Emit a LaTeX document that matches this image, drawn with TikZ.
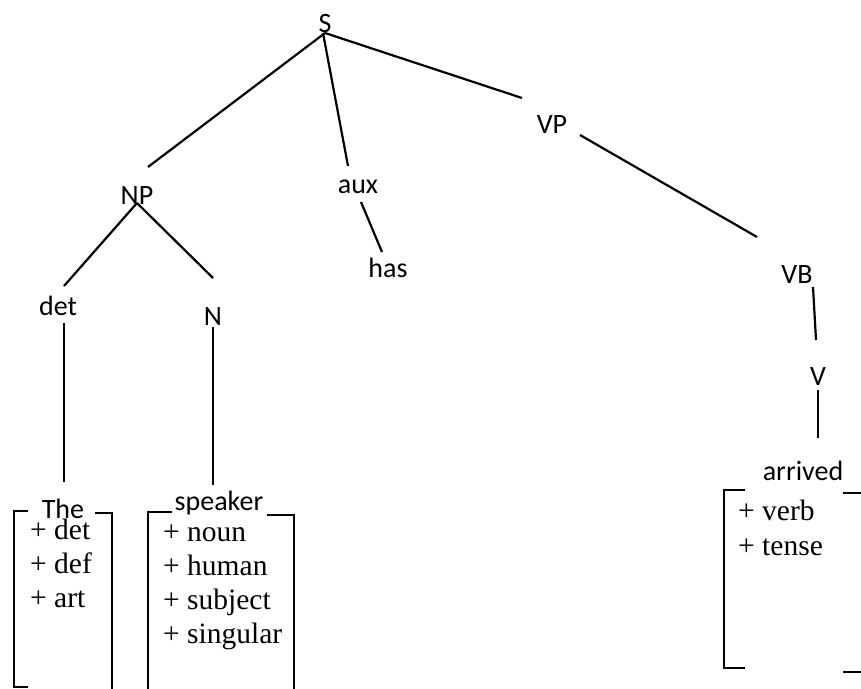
\documentclass[tikz,border=0pt]{standalone}
\usepackage{fontspec}
\setmainfont{Liberation Serif}
\newfontfamily\lblfont{Carlito}
\usetikzlibrary{calc}

\begin{document}
\begin{tikzpicture}[
  x=1pt, y=-1pt,
  lbl/.style={font=\lblfont\fontsize{28}{34}\selectfont, inner sep=0pt, anchor=base},
  feat/.style={font=\fontsize{29.5}{33.7}\selectfont, inner sep=0pt, align=left, anchor=base west},
  edge/.style={line width=2.2pt, black},
  brk/.style={line width=2.2pt, black},
]
\useasboundingbox (0,0) rectangle (861,688);

% Tree labels
\node[lbl] (S) at (325,32) {S};
\node[lbl] (NP) at (137,204) {NP};
\node[lbl] (aux) at (358,193) {aux};
\node[lbl] (has) at (388,277) {has};
\node[lbl] (VP) at (552,133) {VP};
\node[lbl] (det) at (58,315) {det};
\node[lbl] (N) at (213,325) {N};
\node[lbl] (VB) at (797,283) {VB};
\node[lbl] (V) at (818,385) {V};

% Words
\node[lbl] (the) at (63,518) {The};
\node[lbl] (speaker) at (219,510) {speaker};
\node[lbl] (arrived) at (803,480) {arrived};

% Feature lists (anchored on their last line)
\node[feat] (theF) at (30,607) {+ det\\+ def\\+ art};
\node[feat] (speakerF) at (163,643) {+ noun\\+ human\\+ subject\\+ singular};
\node[feat] (arrivedF) at (738,555) {+ verb\\[1.3pt]+ tense};

% Branches
\draw[edge] ([shift={(0,1)}]S.base) -- ([shift={(11,-37)}]NP.base);
\draw[edge] ([shift={(-2,1)}]S.base) -- ([shift={(-10,-27)}]aux.base);
\draw[edge] ([shift={(0,1)}]S.base) -- ([shift={(-30,-35)}]VP.base);
\draw[edge] ([shift={(28,2)}]VP.base) -- ([shift={(-40,-46)}]VB.base);
\draw[edge] ([shift={(0,-1)}]NP.base) -- ([shift={(6,-29)}]det.base);
\draw[edge] ([shift={(0,-1)}]NP.base) -- ([shift={(0,-47)}]N.base);
\draw[edge] ([shift={(3,9)}]aux.base) -- ([shift={(-6,-25)}]has.base);
\draw[edge] ([shift={(6,8)}]det.base) -- ([shift={(1,-36)}]the.base);
\draw[edge] ([shift={(0,2)}]N.base) -- ([shift={(-6,-25)}]speaker.base);
\draw[edge] ([shift={(16,4)}]VB.base) -- ([shift={(-2,-45)}]V.base);
\draw[edge] ([shift={(0,5)}]V.base) -- ([shift={(15,-42)}]arrived.base);

% Brackets
\draw[brk] (28,511) -- (14,511) -- (14,687) -- (28,687);
\draw[brk] (95,513) -- (112,513) -- (112,692);
\draw[brk] (172,512) -- (148,512) -- (148,692);
\draw[brk] (267,515) -- (294,515) -- (294,692);
\draw[brk] (745,490) -- (724,490) -- (724,668) -- (745,668);
\draw[brk] (843,493) -- (865,493);
\draw[brk] (843,672) -- (865,672);

\end{tikzpicture}
\end{document}
